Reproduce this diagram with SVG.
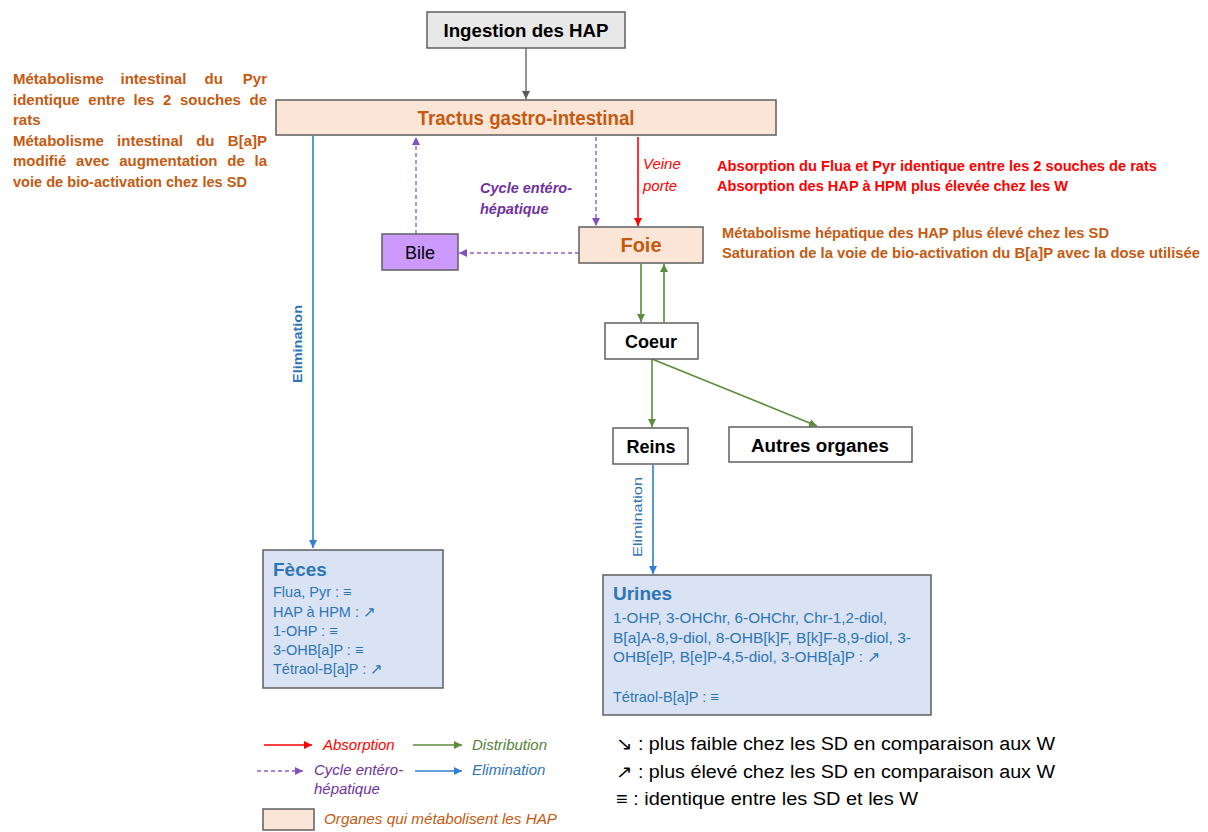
<svg xmlns="http://www.w3.org/2000/svg" width="1208" height="832" viewBox="0 0 1208 832">
<defs>
<style>
text{font-family:"Liberation Sans",Arial,sans-serif;}
.box{stroke:#5f5f5f;stroke-width:1.5;}
.org{fill:#fbe5d6;}
.b{font-weight:bold;}
.i{font-style:italic;}
.or{fill:#c55a11;}
.rd{fill:#ff0000;}
.pu{fill:#7030a0;}
.gr{fill:#548235;}
.bl{fill:#2e75b6;}
.lgray{stroke:#595959;stroke-width:1.3;fill:none;}
.lred{stroke:#ff0000;stroke-width:1.6;fill:none;}
.lgreen{stroke:#5b8c3a;stroke-width:1.6;fill:none;}
.lpur{stroke:#9060c8;stroke-width:1.4;fill:none;stroke-dasharray:4 3;}
.lblue{stroke:#2f80d2;stroke-width:1.6;fill:none;}
</style>
<marker id="mg" markerUnits="userSpaceOnUse" markerWidth="10" markerHeight="10" refX="8" refY="4" orient="auto"><path d="M0,0 L8,4 L0,8 Z" fill="#595959"/></marker>
<marker id="mr" markerUnits="userSpaceOnUse" markerWidth="10" markerHeight="10" refX="8" refY="4" orient="auto"><path d="M0,0 L8,4 L0,8 Z" fill="#ff0000"/></marker>
<marker id="mgr" markerUnits="userSpaceOnUse" markerWidth="10" markerHeight="10" refX="8" refY="4" orient="auto"><path d="M0,0 L8,4 L0,8 Z" fill="#5b8c3a"/></marker>
<marker id="mp" markerUnits="userSpaceOnUse" markerWidth="10" markerHeight="10" refX="8" refY="4" orient="auto"><path d="M0,0 L8,4 L0,8 Z" fill="#8050c0"/></marker>
<marker id="mb" markerUnits="userSpaceOnUse" markerWidth="10" markerHeight="10" refX="8" refY="4" orient="auto"><path d="M0,0 L8,4 L0,8 Z" fill="#2f80d2"/></marker>
</defs>
<rect width="1208" height="832" fill="#ffffff"/>

<g id="connectors">
<line class="lgray" x1="526" y1="48" x2="526" y2="99" marker-end="url(#mg)"/>
<line class="lblue" x1="313" y1="136" x2="313" y2="548" marker-end="url(#mb)"/>
<line class="lpur" x1="416" y1="234" x2="416" y2="137" marker-end="url(#mp)"/>
<line class="lpur" x1="596" y1="137" x2="596" y2="226" marker-end="url(#mp)"/>
<line class="lpur" x1="579" y1="253" x2="459" y2="253" marker-end="url(#mp)"/>
<line class="lred" x1="638" y1="137" x2="638" y2="226" marker-end="url(#mr)"/>
<line class="lgreen" x1="641" y1="264" x2="641" y2="322" marker-end="url(#mgr)"/>
<line class="lgreen" x1="664" y1="322" x2="664" y2="264" marker-end="url(#mgr)"/>
<line class="lgreen" x1="652" y1="359" x2="652" y2="427" marker-end="url(#mgr)"/>
<line class="lgreen" x1="652" y1="359" x2="817" y2="426" marker-end="url(#mgr)"/>
<line class="lblue" x1="653" y1="465" x2="653" y2="574" marker-end="url(#mb)"/>
</g>

<g id="ingestion">
<rect class="box" x="427" y="12" width="198" height="36" fill="#e8e8e8"/>
<text x="526" y="37" text-anchor="middle" font-size="19" class="b" fill="#000" textLength="165" lengthAdjust="spacingAndGlyphs">Ingestion des HAP</text>
</g>

<g id="tractus">
<rect class="box org" x="276" y="100" width="500" height="35"/>
<text x="526" y="125" text-anchor="middle" font-size="20" class="b or" textLength="217" lengthAdjust="spacingAndGlyphs">Tractus gastro-intestinal</text>
</g>

<g id="foie">
<rect class="box org" x="579" y="227" width="124" height="36"/>
<text x="641" y="252" text-anchor="middle" font-size="20" class="b or">Foie</text>
</g>

<g id="bile">
<rect class="box" x="382" y="234" width="76" height="36" fill="#cc99ff"/>
<text x="420" y="259" text-anchor="middle" font-size="18" fill="#000">Bile</text>
</g>

<g id="coeur">
<rect class="box" x="605" y="323" width="93" height="36" fill="#fff"/>
<text x="651" y="348" text-anchor="middle" font-size="18" class="b" fill="#000">Coeur</text>
</g>

<g id="reins">
<rect class="box" x="613" y="428" width="75" height="36" fill="#fff"/>
<text x="651" y="453" text-anchor="middle" font-size="18" class="b" fill="#000">Reins</text>
</g>

<g id="autres">
<rect class="box" x="729" y="427" width="183" height="35" fill="#fff"/>
<text x="820" y="452" text-anchor="middle" font-size="18" class="b" fill="#000" textLength="138" lengthAdjust="spacingAndGlyphs">Autres organes</text>
</g>

<g id="feces">
<rect class="box" x="263" y="550" width="180" height="138" fill="#dae3f3"/>
<text x="273" y="576" font-size="19" class="b bl">Fèces</text>
<g font-size="14.5" class="bl">
<text x="273" y="597">Flua, Pyr : ≡</text>
<text x="273" y="617">HAP à HPM : ↗</text>
<text x="273" y="636">1-OHP : ≡</text>
<text x="273" y="655">3-OHB[a]P : ≡</text>
<text x="273" y="674">Tétraol-B[a]P : ↗</text>
</g>
</g>

<g id="urines">
<rect class="box" x="603" y="575" width="328" height="140" fill="#dae3f3"/>
<text x="613" y="600" font-size="19" class="b bl">Urines</text>
<g font-size="14.5" class="bl">
<text x="613" y="623" textLength="274" lengthAdjust="spacingAndGlyphs">1-OHP, 3-OHChr, 6-OHChr, Chr-1,2-diol,</text>
<text x="613" y="643" textLength="298" lengthAdjust="spacingAndGlyphs">B[a]A-8,9-diol, 8-OHB[k]F, B[k]F-8,9-diol, 3-</text>
<text x="613" y="662" textLength="268" lengthAdjust="spacingAndGlyphs">OHB[e]P, B[e]P-4,5-diol, 3-OHB[a]P : ↗</text>
<text x="613" y="702">Tétraol-B[a]P : ≡</text>
</g>
</g>

<g id="labels">
<text x="643" y="169" font-size="15" class="i rd">Veine</text>
<text x="643" y="191" font-size="15" class="i rd">porte</text>
<text x="480" y="193" font-size="14.5" class="b i pu" textLength="92" lengthAdjust="spacingAndGlyphs">Cycle entéro-</text>
<text x="480" y="214" font-size="14.5" class="b i pu">hépatique</text>
<text transform="translate(302,344) rotate(-90)" text-anchor="middle" font-size="12.5" class="b bl" textLength="78" lengthAdjust="spacingAndGlyphs">Elimination</text>
<text transform="translate(642,517) rotate(-90)" text-anchor="middle" font-size="12.5" class="bl" textLength="80" lengthAdjust="spacingAndGlyphs">Elimination</text>
</g>

<g id="note-intestin" font-size="15" class="b or">
<text x="13" y="84">Métabolisme</text><text x="120.5" y="84">intestinal</text><text x="204.6" y="84">du</text><text x="267" y="84" text-anchor="end">Pyr</text>
<text x="13" y="105">identique</text><text x="88.3" y="105">entre</text><text x="133.6" y="105">les</text><text x="163.1" y="105">2</text><text x="180" y="105">souches</text><text x="267" y="105" text-anchor="end">de</text>
<text x="13" y="125">rats</text>
<text x="13" y="146">Métabolisme</text><text x="117.1" y="146">intestinal</text><text x="196.2" y="146">du</text><text x="267" y="146" text-anchor="end">B[a]P</text>
<text x="13" y="166">modifié</text><text x="76.1" y="166">avec</text><text x="119.2" y="166">augmentation</text><text x="227.3" y="166">de</text><text x="267" y="166" text-anchor="end">la</text>
<text x="13" y="187" textLength="234" lengthAdjust="spacingAndGlyphs">voie de bio-activation chez les SD</text>
</g>

<g id="note-absorption" font-size="15" class="b rd">
<text x="717" y="171" textLength="440" lengthAdjust="spacingAndGlyphs">Absorption du Flua et Pyr identique entre les 2 souches de rats</text>
<text x="717" y="191" textLength="351" lengthAdjust="spacingAndGlyphs">Absorption des HAP à HPM plus élevée chez les W</text>
</g>

<g id="note-foie" font-size="15" class="b or">
<text x="722" y="238" textLength="387" lengthAdjust="spacingAndGlyphs">Métabolisme hépatique des HAP plus élevé chez les SD</text>
<text x="722" y="258" textLength="478" lengthAdjust="spacingAndGlyphs">Saturation de la voie de bio-activation du B[a]P avec la dose utilisée</text>
</g>

<g id="legend">
<line class="lred" x1="264" y1="745" x2="312" y2="745" marker-end="url(#mr)"/>
<text x="323" y="750" font-size="15" class="i rd">Absorption</text>
<line class="lgreen" x1="413" y1="745" x2="462" y2="745" marker-end="url(#mgr)"/>
<text x="472" y="750" font-size="15" class="i gr">Distribution</text>
<line class="lpur" x1="257" y1="771" x2="303" y2="771" marker-end="url(#mp)"/>
<text x="314" y="775" font-size="15" class="i pu">Cycle entéro-</text>
<text x="314" y="794" font-size="15" class="i pu">hépatique</text>
<line class="lblue" x1="415" y1="771" x2="462" y2="771" marker-end="url(#mb)"/>
<text x="472" y="775" font-size="15" class="i bl">Elimination</text>
<rect class="box org" x="263" y="809" width="51" height="21"/>
<text x="324" y="824" font-size="15" class="i or" textLength="233" lengthAdjust="spacingAndGlyphs">Organes qui métabolisent les HAP</text>
</g>

<g id="legend-symbols" font-size="18" fill="#000">
<text x="616" y="750" textLength="439" lengthAdjust="spacingAndGlyphs">↘ : plus faible chez les SD en comparaison aux W</text>
<text x="616" y="778" textLength="439" lengthAdjust="spacingAndGlyphs">↗ : plus élevé chez les SD en comparaison aux W</text>
<text x="616" y="805" textLength="302" lengthAdjust="spacingAndGlyphs">≡ : identique entre les SD et les W</text>
</g>
</svg>
